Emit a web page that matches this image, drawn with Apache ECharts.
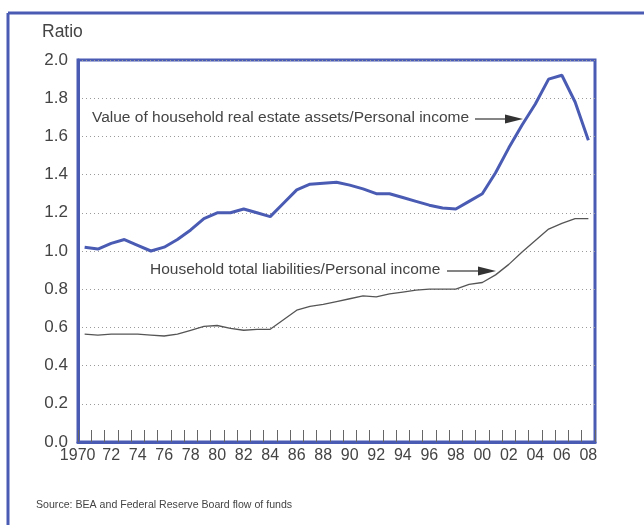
<!DOCTYPE html>
<html>
<head>
<meta charset="utf-8">
<script src="https://cdn.jsdelivr.net/npm/echarts@6/dist/echarts.min.js"></script>
<style>
html, body {margin:0; padding:0; background:#fff;}
#chart {width:644px; height:525px;}
</style>
</head>
<body>
<div id="chart"></div>
<script>
var years = [];
for (var y = 1970; y <= 2008; y++) years.push(String(y));

// value of household real estate assets / personal income
var realEstate = [1.02, 1.01, 1.04, 1.06, 1.03, 1.00, 1.02, 1.06, 1.11, 1.17,
    1.20, 1.20, 1.22, 1.20, 1.18, 1.25, 1.32, 1.35, 1.355, 1.36,
    1.345, 1.325, 1.30, 1.30, 1.28, 1.26, 1.24, 1.225, 1.22, 1.26,
    1.30, 1.41, 1.54, 1.66, 1.77, 1.90, 1.92, 1.78, 1.58];

// household total liabilities / personal income
var liabilities = [0.565, 0.56, 0.565, 0.565, 0.565, 0.56, 0.555, 0.565, 0.585, 0.605,
    0.61, 0.595, 0.585, 0.59, 0.59, 0.64, 0.69, 0.71, 0.72, 0.735,
    0.75, 0.765, 0.76, 0.775, 0.785, 0.795, 0.80, 0.80, 0.80, 0.825,
    0.835, 0.875, 0.93, 0.995, 1.055, 1.115, 1.145, 1.17, 1.17];

var yMin = 0, yMax = 2, yStep = 0.2;

var blue = '#4a5bb3';
var textColor = '#444444';
var font = 'Liberation Sans, Arial, sans-serif';

function arrow(x1, x2, y, head)
{
    return [
        {type:'line', shape:{x1:x1, y1:y, x2:x2 - head, y2:y}, style:{stroke:'#333', lineWidth:1.2}},
        {type:'polygon', shape:{points:[[x2 - head, y - 4.5], [x2, y], [x2 - head, y + 4.5]]}, style:{fill:'#333'}}
    ];
}

var chart = echarts.init(document.getElementById('chart'));

var graphics = [
    {type:'line', shape:{x1:8, y1:13, x2:644, y2:13}, style:{stroke:blue, lineWidth:3}},
    {type:'line', shape:{x1:8, y1:13, x2:8, y2:525}, style:{stroke:blue, lineWidth:3}},
    {type:'text', left:42, top:23, style:{text:'Ratio', fill:textColor, font:'17.5px ' + font}},
    {type:'text', left:92, top:110, style:{text:'Value of household real estate assets/Personal income', fill:textColor, font:'15.5px ' + font}},
    {type:'text', left:150, top:262, style:{text:'Household total liabilities/Personal income', fill:textColor, font:'15.5px ' + font}},
    {type:'text', left:36, top:500, style:{text:'Source: BEA and Federal Reserve Board flow of funds', fill:textColor, font:'10.6px ' + font}}
];
graphics = graphics.concat(arrow(475, 523, 119, 18), arrow(447, 496, 271, 18));

var option = {
    animation: false,
    grid: {left:78, top:60, right:49, bottom:83, show:true, borderColor:blue, borderWidth:3},
    xAxis: {
        type: 'category',
        data: years,
        boundaryGap: true,
        axisLine: {lineStyle:{color:blue, width:3}},
        axisTick: {show:true, inside:true, length:12, interval:0, lineStyle:{color:'#666', width:1}},
        axisLabel: {
            interval: 1, color: textColor, fontSize: 16, fontFamily: font, margin: 6,
            formatter: function (v) { return v === '1970' ? '{f|1970}' : v.slice(2); },
            rich: {f: {fontSize:16, fontFamily:font, color:textColor, padding:[0, 14, 0, 0]}}
        },
        splitLine: {show:false}
    },
    yAxis: {
        type: 'value',
        min: yMin, max: yMax, interval: yStep,
        axisLine: {show:true, lineStyle:{color:blue, width:3}},
        axisTick: {show:false},
        axisLabel: {color:textColor, fontSize:17, fontFamily:font, margin:10,
            formatter: function (v) { return v.toFixed(1); }},
        splitLine: {show:true, lineStyle:{color:'#9a9a9a', type:[1, 3], width:1}}
    },
    series: [
        {name:'Real estate assets/Personal income', type:'line', data:realEstate, showSymbol:false,
            lineStyle:{color:blue, width:3}, itemStyle:{color:blue}},
        {name:'Total liabilities/Personal income', type:'line', data:liabilities, showSymbol:false,
            lineStyle:{color:'#555555', width:1.3}, itemStyle:{color:'#555555'}}
    ],
    graphic: graphics
};

chart.setOption(option);
</script>
</body>
</html>
